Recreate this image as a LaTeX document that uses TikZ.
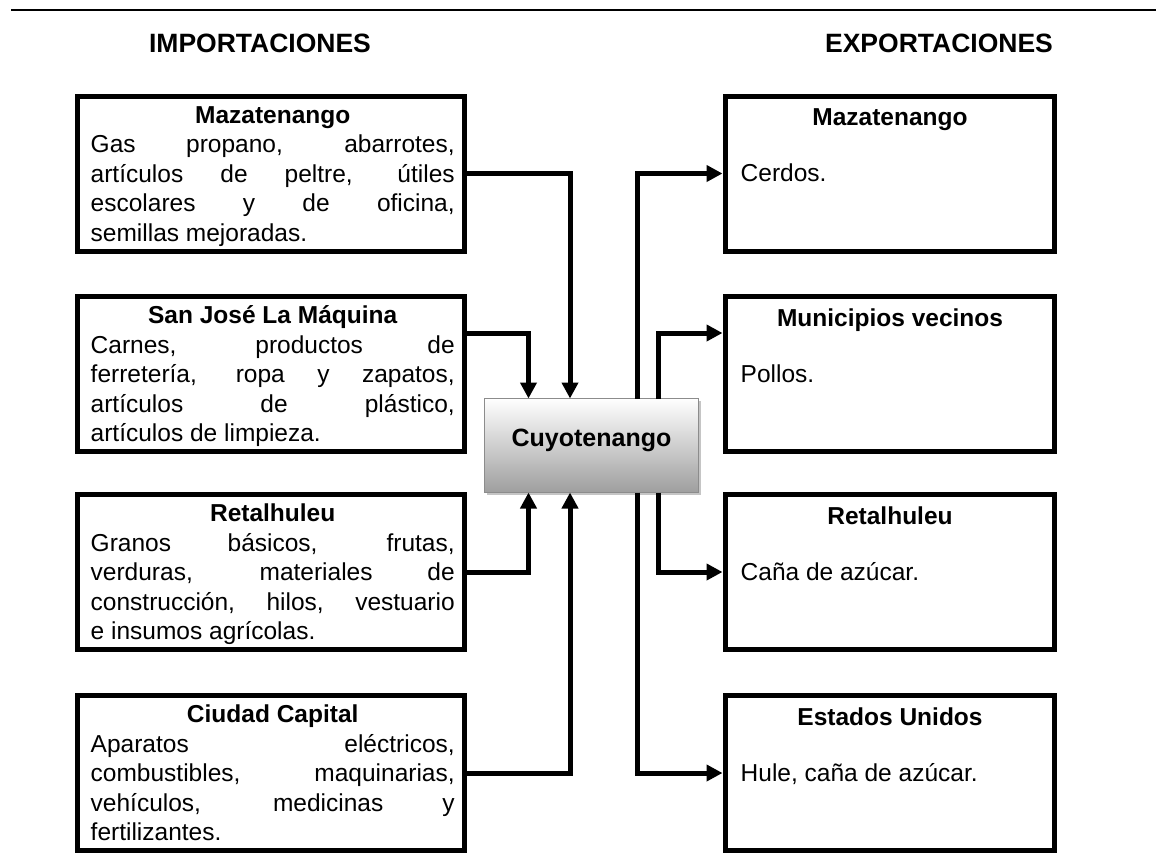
\documentclass[tikz,border=0pt]{standalone}
\usepackage{fontspec}
\setmainfont{Liberation Sans}
\usetikzlibrary{arrows.meta,shadows}
\newlength{\bw}\setlength{\bw}{364pt}
\newcommand{\jline}[1]{\makebox[\bw][s]{#1}}
\newcommand{\lline}[1]{\makebox[\bw][l]{#1}}
\newcommand{\boxtitle}[1]{\makebox[\bw][c]{\bfseries #1}}
\begin{document}
\begin{tikzpicture}[x=1pt,y=-1pt,
  box/.style={draw=black, line width=5pt, inner sep=0pt, outer sep=0pt, minimum height=155pt},
  lbox/.style={box, minimum width=387pt},
  rbox/.style={box, minimum width=329pt},
  txt/.style={inner sep=0pt, font=\fontsize{24.5}{29.5}\selectfont},
  ttl/.style={inner sep=0pt, font=\fontsize{24.5}{29.5}\selectfont\bfseries},
  hdr/.style={inner sep=0pt, font=\fontsize{26.5}{30}\selectfont\bfseries},
  center box/.style={draw=black!45, line width=1.2pt, inner sep=0pt, outer sep=0pt,
    minimum width=214pt, minimum height=94pt, top color=white, bottom color=black!38,
    drop shadow={shadow xshift=2.5pt, shadow yshift=-2.5pt, fill=black!50, opacity=0.45}},
  arr/.style={line width=5pt, -{Triangle[length=16pt,width=16pt]}},
  arrR/.style={arr, shorten >=3pt}
]
\useasboundingbox (0,0) rectangle (1156,865);
\fill[white] (0,0) rectangle (1156,865);
\draw[line width=2pt] (11,10) -- (1156,10);

% headers
\node[hdr, anchor=base] (himp) at (260,52) {IMPORTACIONES};
\node[hdr, anchor=base] (hexp) at (939,52) {EXPORTACIONES};

% left boxes
\node[lbox] (l1) at (271,173.5) {};
\node[lbox] (l2) at (271,374) {};
\node[lbox] (l3) at (271,572) {};
\node[lbox] (l4) at (271,773) {};

\node[txt, anchor=base west] (l1t) at ([xshift=13pt,yshift=50.5pt]l1.west) {\parbox[t]{\bw}{%
  \boxtitle{Mazatenango}\\
  \jline{Gas propano, abarrotes,}\\
  \jline{artículos de peltre, útiles}\\
  \jline{escolares y de oficina,}\\
  \lline{semillas mejoradas.}}};
\node[txt, anchor=base west] (l2t) at ([xshift=13pt,yshift=50.5pt]l2.west) {\parbox[t]{\bw}{%
  \boxtitle{San José La Máquina}\\
  \jline{Carnes, productos de}\\
  \jline{ferretería, ropa y zapatos,}\\
  \jline{artículos de plástico,}\\
  \lline{artículos de limpieza.}}};
\node[txt, anchor=base west] (l3t) at ([xshift=13pt,yshift=50.5pt]l3.west) {\parbox[t]{\bw}{%
  \boxtitle{Retalhuleu}\\
  \jline{Granos básicos, frutas,}\\
  \jline{verduras, materiales de}\\
  \jline{construcción, hilos, vestuario}\\
  \lline{e insumos agrícolas.}}};
\node[txt, anchor=base west] (l4t) at ([xshift=13pt,yshift=50.5pt]l4.west) {\parbox[t]{\bw}{%
  \boxtitle{Ciudad Capital}\\
  \jline{Aparatos eléctricos,}\\
  \jline{combustibles, maquinarias,}\\
  \jline{vehículos, medicinas y}\\
  \lline{fertilizantes.}}};

% right boxes
\node[rbox] (r1) at (890,173.5) {};
\node[rbox] (r2) at (890,374) {};
\node[rbox] (r3) at (890,572) {};
\node[rbox] (r4) at (890,773) {};

\node[ttl, anchor=base] (r1t) at ([yshift=48pt]r1.center) {Mazatenango};
\node[txt, anchor=base west] (r1b) at ([xshift=15pt,yshift=-8pt]r1.west) {Cerdos.};
\node[ttl, anchor=base] (r2t) at ([yshift=48pt]r2.center) {Municipios vecinos};
\node[txt, anchor=base west] (r2b) at ([xshift=15pt,yshift=-8pt]r2.west) {Pollos.};
\node[ttl, anchor=base] (r3t) at ([yshift=48pt]r3.center) {Retalhuleu};
\node[txt, anchor=base west] (r3b) at ([xshift=15pt,yshift=-8pt]r3.west) {Caña de azúcar.};
\node[ttl, anchor=base] (r4t) at ([yshift=48pt]r4.center) {Estados Unidos};
\node[txt, anchor=base west] (r4b) at ([xshift=15pt,yshift=-8pt]r4.west) {Hule, caña de azúcar.};

% center
\node[center box] (c) at (591.5,445.5) {};
\node[inner sep=0pt, font=\fontsize{25}{30}\selectfont\bfseries, anchor=base] (ct) at ([yshift=-1pt]c.center) {Cuyotenango};

% connectors
\draw[arr] (l1.east) -| ([xshift=-21.5pt]c.north);
\draw[arr] ([yshift=41pt]l2.east) -| ([xshift=-63pt]c.north);
\draw[arr] (l3.east) -| ([xshift=-63pt]c.south);
\draw[arr] (l4.east) -| ([xshift=-21.5pt]c.south);
\draw[arrR] ([xshift=46pt]c.north) |- (r1.west);
\draw[arrR] ([xshift=67pt]c.north) |- ([yshift=41pt]r2.west);
\draw[arrR] ([xshift=67pt]c.south) |- (r3.west);
\draw[arrR] ([xshift=46pt]c.south) |- (r4.west);
\end{tikzpicture}
\end{document}
